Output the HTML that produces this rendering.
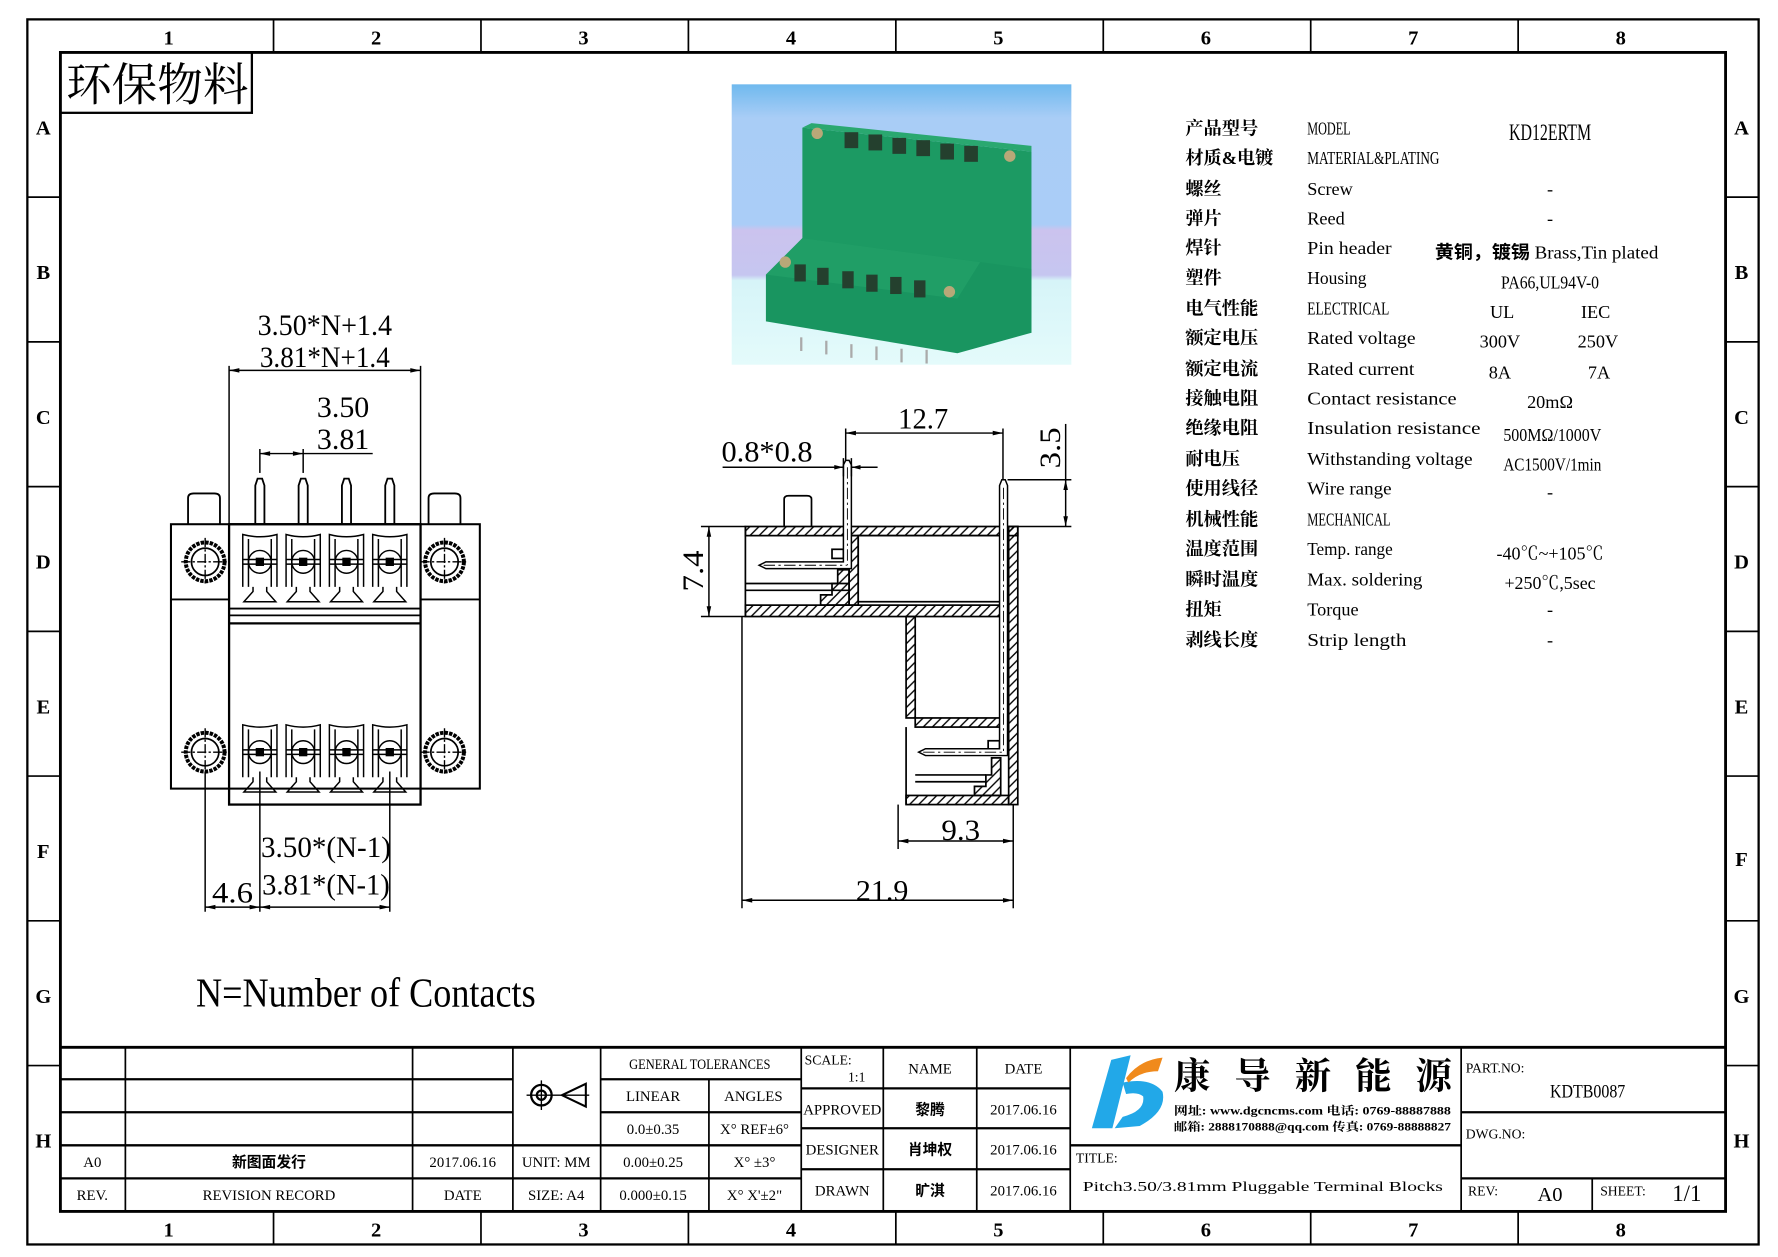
<!DOCTYPE html>
<html><head><meta charset="utf-8">
<style>
html,body{margin:0;padding:0;background:#fff;}
svg{display:block;}
text{font-family:"Liberation Serif","Noto Serif CJK SC","Noto Sans CJK SC",serif;fill:#000;}
.cn{font-family:"Liberation Sans","Noto Sans CJK SC",sans-serif;font-weight:bold;}
.sans{font-family:"Liberation Sans","Noto Sans CJK SC",sans-serif;font-weight:bold;}
</style></head>
<body>
<svg width="1778" height="1257" viewBox="0 0 1560 1103" preserveAspectRatio="none" xmlns="http://www.w3.org/2000/svg">
<defs>
<pattern id="h" patternUnits="userSpaceOnUse" width="8" height="8">
<path d="M-2,2 L2,-2 M0,8 L8,0 M6,10 L10,6" stroke="#000" stroke-width="1.2"/>
</pattern>
<linearGradient id="bg" x1="0" y1="0" x2="0" y2="1">
<stop offset="0" stop-color="#6fb9ee"/><stop offset="0.12" stop-color="#a9cdf6"/>
<stop offset="0.5" stop-color="#aacdf7"/><stop offset="0.52" stop-color="#cbc3ee"/>
<stop offset="0.68" stop-color="#c6c6f0"/><stop offset="0.7" stop-color="#d6f4f8"/>
<stop offset="1" stop-color="#e4fbfb"/>
</linearGradient>
</defs>
<rect width="1560" height="1103" fill="#fff"/>

<!-- frame -->
<g fill="none" stroke="#000">
<rect x="24" y="17" width="1519" height="1075" stroke-width="2"/>
<rect x="53" y="46" width="1461" height="1017" stroke-width="2.5"/>
</g>
<g stroke="#000" stroke-width="1.5">
<line x1="240" y1="17" x2="240" y2="46"/><line x1="422" y1="17" x2="422" y2="46"/><line x1="604" y1="17" x2="604" y2="46"/><line x1="786" y1="17" x2="786" y2="46"/><line x1="968" y1="17" x2="968" y2="46"/><line x1="1150" y1="17" x2="1150" y2="46"/><line x1="1332" y1="17" x2="1332" y2="46"/>
<line x1="240" y1="1063" x2="240" y2="1092"/><line x1="422" y1="1063" x2="422" y2="1092"/><line x1="604" y1="1063" x2="604" y2="1092"/><line x1="786" y1="1063" x2="786" y2="1092"/><line x1="968" y1="1063" x2="968" y2="1092"/><line x1="1150" y1="1063" x2="1150" y2="1092"/><line x1="1332" y1="1063" x2="1332" y2="1092"/>
<line x1="24" y1="173" x2="53" y2="173"/><line x1="24" y1="300" x2="53" y2="300"/><line x1="24" y1="427" x2="53" y2="427"/><line x1="24" y1="554" x2="53" y2="554"/><line x1="24" y1="681" x2="53" y2="681"/><line x1="24" y1="808" x2="53" y2="808"/><line x1="24" y1="935" x2="53" y2="935"/>
<line x1="1514" y1="173" x2="1543" y2="173"/><line x1="1514" y1="300" x2="1543" y2="300"/><line x1="1514" y1="427" x2="1543" y2="427"/><line x1="1514" y1="554" x2="1543" y2="554"/><line x1="1514" y1="681" x2="1543" y2="681"/><line x1="1514" y1="808" x2="1543" y2="808"/><line x1="1514" y1="935" x2="1543" y2="935"/>
</g>
<g class="sans" font-size="18" text-anchor="middle">
<text x="148" y="39">1</text><text x="330" y="39">2</text><text x="512" y="39">3</text><text x="694" y="39">4</text><text x="876" y="39">5</text><text x="1058" y="39">6</text><text x="1240" y="39">7</text><text x="1422" y="39">8</text>
<text x="148" y="1085">1</text><text x="330" y="1085">2</text><text x="512" y="1085">3</text><text x="694" y="1085">4</text><text x="876" y="1085">5</text><text x="1058" y="1085">6</text><text x="1240" y="1085">7</text><text x="1422" y="1085">8</text>
<text x="38" y="118">A</text><text x="38" y="245">B</text><text x="38" y="372">C</text><text x="38" y="499">D</text><text x="38" y="626">E</text><text x="38" y="753">F</text><text x="38" y="880">G</text><text x="38" y="1007">H</text>
<text x="1528" y="118">A</text><text x="1528" y="245">B</text><text x="1528" y="372">C</text><text x="1528" y="499">D</text><text x="1528" y="626">E</text><text x="1528" y="760">F</text><text x="1528" y="880">G</text><text x="1528" y="1007">H</text>
</g>

<!-- 环保物料 -->
<rect x="53" y="46" width="168" height="53" fill="none" stroke="#000" stroke-width="2"/>
<text x="58" y="88" font-size="40" textLength="160" lengthAdjust="spacingAndGlyphs">环保物料</text>

<!-- photo -->
<rect x="642" y="74" width="298" height="246" fill="url(#bg)"/>
<polygon points="704,112 905,133 905,292 704,234" fill="#1c9a63"/>
<polygon points="704,112 712,108 905,128 905,133" fill="#2aa870"/>
<polygon points="672,241 704,209 905,236 905,292 840,310 672,282" fill="#199560"/>
<polygon points="672,241 704,209 860,230 840,262" fill="#22a068" opacity="0.8"/>
<g fill="#24402e">
<rect x="741" y="116" width="12" height="14"/><rect x="762" y="118" width="12" height="14"/><rect x="783" y="121" width="12" height="14"/><rect x="804" y="123" width="12" height="14"/><rect x="825" y="126" width="12" height="14"/><rect x="846" y="128" width="12" height="14"/>
<rect x="697" y="232" width="10" height="15"/><rect x="717" y="235" width="10" height="15"/><rect x="739" y="238" width="10" height="15"/><rect x="760" y="241" width="10" height="15"/><rect x="781" y="243" width="10" height="15"/><rect x="802" y="246" width="10" height="15"/>
</g>
<g fill="#b8a878"><circle cx="717" cy="117" r="5"/><circle cx="886" cy="137" r="5"/><circle cx="689" cy="230" r="5"/><circle cx="833" cy="256" r="5"/></g>
<g stroke="#aaa" stroke-width="2"><line x1="703" y1="296" x2="703" y2="308"/><line x1="725" y1="299" x2="725" y2="311"/><line x1="747" y1="302" x2="747" y2="314"/><line x1="769" y1="304" x2="769" y2="316"/><line x1="791" y1="306" x2="791" y2="318"/><line x1="813" y1="307" x2="813" y2="319"/></g>

<!-- spec table -->
<g class="cn" font-size="16">
<text x="1040" y="118">产品型号</text><text x="1040" y="144">材质&amp;电镀</text><text x="1040" y="171">螺丝</text><text x="1040" y="197">弹片</text><text x="1040" y="223">焊针</text><text x="1040" y="249">塑件</text><text x="1040" y="276">电气性能</text><text x="1040" y="302">额定电压</text><text x="1040" y="329">额定电流</text><text x="1040" y="355">接触电阻</text><text x="1040" y="381">绝缘电阻</text><text x="1040" y="408">耐电压</text><text x="1040" y="434">使用线径</text><text x="1040" y="461">机械性能</text><text x="1040" y="487">温度范围</text><text x="1040" y="514">瞬时温度</text><text x="1040" y="540">扭矩</text><text x="1040" y="567">剥线长度</text>
</g>
<g font-size="16">
<text x="1147" y="118" textLength="38" lengthAdjust="spacingAndGlyphs">MODEL</text>
<text x="1147" y="144" textLength="116" lengthAdjust="spacingAndGlyphs">MATERIAL&amp;PLATING</text>
<text x="1147" y="171">Screw</text><text x="1147" y="197">Reed</text>
<text x="1147" y="223" textLength="74" lengthAdjust="spacingAndGlyphs">Pin header</text>
<text x="1147" y="249" textLength="52" lengthAdjust="spacingAndGlyphs">Housing</text>
<text x="1147" y="276" textLength="72" lengthAdjust="spacingAndGlyphs">ELECTRICAL</text>
<text x="1147" y="302" textLength="95" lengthAdjust="spacingAndGlyphs">Rated voltage</text>
<text x="1147" y="329" textLength="94" lengthAdjust="spacingAndGlyphs">Rated current</text>
<text x="1147" y="355" textLength="131" lengthAdjust="spacingAndGlyphs">Contact resistance</text>
<text x="1147" y="381" textLength="152" lengthAdjust="spacingAndGlyphs">Insulation resistance</text>
<text x="1147" y="408" textLength="145" lengthAdjust="spacingAndGlyphs">Withstanding voltage</text>
<text x="1147" y="434" textLength="74" lengthAdjust="spacingAndGlyphs">Wire range</text>
<text x="1147" y="461" textLength="73" lengthAdjust="spacingAndGlyphs">MECHANICAL</text>
<text x="1147" y="487" textLength="75" lengthAdjust="spacingAndGlyphs">Temp. range</text>
<text x="1147" y="514" textLength="101" lengthAdjust="spacingAndGlyphs">Max. soldering</text>
<text x="1147" y="540">Torque</text>
<text x="1147" y="567" textLength="87" lengthAdjust="spacingAndGlyphs">Strip length</text>
</g>
<g font-size="16" text-anchor="middle">
<text x="1360" y="123" font-size="20" textLength="72" lengthAdjust="spacingAndGlyphs">KD12ERTM</text>
<text x="1360" y="171">-</text><text x="1360" y="197">-</text>
<text x="1357" y="227" textLength="196" lengthAdjust="spacingAndGlyphs"><tspan class="cn">黄铜，镀锡</tspan> Brass,Tin plated</text>
<text x="1360" y="253" textLength="86" lengthAdjust="spacingAndGlyphs">PA66,UL94V-0</text>
<text x="1318" y="279">UL</text><text x="1400" y="279">IEC</text>
<text x="1316" y="305">300V</text><text x="1402" y="305">250V</text>
<text x="1316" y="332">8A</text><text x="1403" y="332">7A</text>
<text x="1360" y="358">20mΩ</text>
<text x="1362" y="387" textLength="86" lengthAdjust="spacingAndGlyphs">500MΩ/1000V</text>
<text x="1362" y="413" textLength="86" lengthAdjust="spacingAndGlyphs">AC1500V/1min</text>
<text x="1360" y="437">-</text>
<text x="1360" y="491" textLength="94" lengthAdjust="spacingAndGlyphs">-40℃~+105℃</text>
<text x="1360" y="517" textLength="80" lengthAdjust="spacingAndGlyphs">+250℃,5sec</text>
<text x="1360" y="540">-</text><text x="1360" y="567">-</text>
</g>

<!-- FRONT VIEW -->
<g fill="none" stroke="#000" stroke-width="1.6">
<!-- bosses -->
<path d="M165,460 V437 Q165,433 170,433 H188 Q193,433 193,437 V460"/>
<path d="M376,460 V437 Q376,433 381,433 H399 Q404,433 404,437 V460"/>
<!-- pins -->
<path d="M224,460 V426 L226,420 H230 L232,426 V460"/>
<path d="M262,460 V426 L264,420 H268 L270,426 V460"/>
<path d="M300,460 V426 L302,420 H306 L308,426 V460"/>
<path d="M338,460 V426 L340,420 H344 L346,426 V460"/>
<!-- body -->
<rect x="150" y="460" width="271" height="232" stroke-width="1.8"/>
<rect x="201" y="460" width="168" height="246" stroke-width="2"/>
<line x1="150" y1="526" x2="201" y2="526"/><line x1="369" y1="526" x2="421" y2="526"/>
<line x1="201" y1="534" x2="369" y2="534"/><line x1="201" y1="540" x2="369" y2="540"/><line x1="201" y1="547" x2="369" y2="547" stroke-width="2"/>
</g>
<!-- cells -->
<g fill="none" stroke="#000" stroke-width="1.3" id="cells">
<g id="c1">
<path d="M213,515 V469 Q228,473 243,469 V515"/><path d="M218,515 V473 M238,515 V473"/>
<circle cx="228" cy="493" r="10"/><line x1="213" y1="491" x2="243" y2="491"/><line x1="213" y1="495" x2="243" y2="495"/>
<rect x="225" y="490" width="6" height="6" fill="#000"/>
<polyline points="222,515 222,519 214,528 242,528 234,519 234,515"/>
</g>
<use href="#c1" x="38"/><use href="#c1" x="76"/><use href="#c1" x="114"/>
<use href="#c1" y="167"/><use href="#c1" x="38" y="167"/><use href="#c1" x="76" y="167"/><use href="#c1" x="114" y="167"/>
</g>
<!-- screws -->
<g fill="none" stroke="#000">
<g id="sc"><circle cx="180" cy="493" r="17" stroke-width="3.5" stroke-dasharray="3 1"/><circle cx="180" cy="493" r="12" stroke-width="1.5"/><path d="M159,493 H201 M180,472 V514" stroke-width="1.2" stroke-dasharray="8 2 2 2"/></g>
<use href="#sc" x="210"/><use href="#sc" y="167"/><use href="#sc" x="210" y="167"/>
</g>
<!-- front dims -->
<g stroke="#000" stroke-width="1.3" fill="none">
<line x1="201" y1="321" x2="201" y2="460"/><line x1="369" y1="321" x2="369" y2="460"/>
<line x1="201" y1="325" x2="369" y2="325"/>
<line x1="228" y1="394" x2="228" y2="415"/><line x1="266" y1="394" x2="266" y2="415"/>
<line x1="228" y1="398" x2="327" y2="398"/>
<line x1="180" y1="677" x2="180" y2="800"/><line x1="228" y1="677" x2="228" y2="800"/><line x1="342" y1="677" x2="342" y2="800"/>
<line x1="180" y1="796" x2="228" y2="796"/><line x1="228" y1="796" x2="342" y2="796"/>
</g>
<g fill="#000">
<path d="M201,325 l9,-2 v4z M369,325 l-9,-2 v4z M228,398 l9,-2 v4z M266,398 l-9,-2 v4z M180,796 l9,-2 v4z M228,796 l-9,-2 v4z M228,796 l9,-2 v4z M342,796 l-9,-2 v4z"/>
</g>
<g font-size="26" text-anchor="middle">
<text x="285" y="294" textLength="118" lengthAdjust="spacingAndGlyphs">3.50*N+1.4</text>
<text x="285" y="322" textLength="114" lengthAdjust="spacingAndGlyphs">3.81*N+1.4</text>
<text x="301" y="366" textLength="46" lengthAdjust="spacingAndGlyphs">3.50</text>
<text x="301" y="394" textLength="46" lengthAdjust="spacingAndGlyphs">3.81</text>
<text x="286" y="752" textLength="114" lengthAdjust="spacingAndGlyphs">3.50*(N-1)</text>
<text x="286" y="785" textLength="112" lengthAdjust="spacingAndGlyphs">3.81*(N-1)</text>
<text x="204" y="792" textLength="36" lengthAdjust="spacingAndGlyphs">4.6</text>
</g>
<text x="172" y="883" font-size="36" textLength="298" lengthAdjust="spacingAndGlyphs">N=Number of Contacts</text>

<!-- SIDE VIEW -->
<g stroke="#000" stroke-width="1.5">
<path d="M688,462 V438 Q688,435 692,435 H708 Q712,435 712,438 V462" fill="none"/>
<rect x="654" y="462" width="239" height="8" fill="url(#h)"/>
<rect x="654" y="531" width="231" height="10" fill="url(#h)"/>
<rect x="745" y="470" width="8" height="61" fill="url(#h)"/>
<polygon points="735,500 745,500 745,531 720,531 720,522 730,522 730,512 735,512" fill="url(#h)"/>
<rect x="795" y="541" width="8" height="89" fill="url(#h)"/>
<rect x="803" y="630" width="77" height="8" fill="url(#h)"/>
<rect x="885" y="462" width="8" height="244" fill="url(#h)"/>
<rect x="795" y="698" width="90" height="8" fill="url(#h)"/>
<polygon points="870,665 878,665 878,698 855,698 855,690 865,690 865,680 870,680" fill="url(#h)"/>
<rect x="753" y="470" width="125" height="58" fill="#fff"/>
<line x1="654" y1="462" x2="654" y2="541"/>
<line x1="654" y1="512" x2="745" y2="512"/><line x1="654" y1="518" x2="745" y2="518"/>
<line x1="795" y1="638" x2="795" y2="706"/>
<line x1="803" y1="680" x2="865" y2="680"/><line x1="803" y1="686" x2="865" y2="686"/>
<rect x="730" y="482" width="10" height="8" fill="#fff"/>
<rect x="867" y="650" width="10" height="8" fill="#fff"/>
</g>
<!-- pins side -->
<g fill="#fff" stroke="#000" stroke-width="1.3">
<path d="M740,408 L742,404 H745 L747,408 V499 H672 L666,496 L672,493 H740 Z"/>
<path d="M877,426 L879,421 H882 L884,426 V663 H812 L806,660 L812,657 H877 Z"/>
</g>
<g stroke="#000" stroke-width="0.8" stroke-dasharray="10 3 2 3" fill="none">
<line x1="743.5" y1="410" x2="743.5" y2="496"/><line x1="670" y1="496" x2="743" y2="496"/>
<line x1="880.5" y1="428" x2="880.5" y2="660"/><line x1="810" y1="660" x2="880" y2="660"/>
</g>
<!-- side dims -->
<g stroke="#000" stroke-width="1.3" fill="none">
<line x1="742" y1="376" x2="742" y2="404"/><line x1="880" y1="376" x2="880" y2="421"/>
<line x1="742" y1="380" x2="880" y2="380"/>
<line x1="634" y1="410" x2="740" y2="410"/><line x1="747" y1="410" x2="770" y2="410"/>
<line x1="740" y1="402" x2="740" y2="418"/><line x1="747" y1="402" x2="747" y2="418"/>
<line x1="884" y1="421" x2="940" y2="421"/><line x1="893" y1="462" x2="940" y2="462"/>
<line x1="935" y1="372" x2="935" y2="462"/>
<line x1="615" y1="462" x2="654" y2="462"/><line x1="615" y1="541" x2="654" y2="541"/>
<line x1="622" y1="462" x2="622" y2="541"/>
<line x1="788" y1="706" x2="788" y2="745"/><line x1="889" y1="706" x2="889" y2="797"/>
<line x1="788" y1="738" x2="889" y2="738"/>
<line x1="651" y1="541" x2="651" y2="797"/>
<line x1="651" y1="790" x2="889" y2="790"/>
</g>
<g fill="#000">
<path d="M742,380 l9,-2 v4z M880,380 l-9,-2 v4z M935,421 l-2,9 h4z M935,462 l-2,-9 h4z M622,462 l-2,9 h4z M622,541 l-2,-9 h4z M788,738 l9,-2 v4z M889,738 l-9,-2 v4z M651,790 l9,-2 v4z M889,790 l-9,-2 v4z M740,410 l-8,-2 v4z M747,410 l8,-2 v4z"/>
</g>
<g font-size="26" text-anchor="middle">
<text x="810" y="376" textLength="44" lengthAdjust="spacingAndGlyphs">12.7</text>
<text x="673" y="405" textLength="80" lengthAdjust="spacingAndGlyphs">0.8*0.8</text>
<text x="843" y="737" textLength="34" lengthAdjust="spacingAndGlyphs">9.3</text>
<text x="774" y="790" textLength="46" lengthAdjust="spacingAndGlyphs">21.9</text>
<text transform="translate(930,393) rotate(-90)" textLength="36" lengthAdjust="spacingAndGlyphs">3.5</text>
<text transform="translate(617,501) rotate(-90)" textLength="36" lengthAdjust="spacingAndGlyphs">7.4</text>
</g>

<!-- TITLE BLOCK -->
<g stroke="#000" fill="none">
<line x1="53" y1="919" x2="1514" y2="919" stroke-width="2.5"/>
<g stroke-width="2">
<line x1="53" y1="947" x2="450" y2="947"/><line x1="53" y1="976" x2="450" y2="976"/><line x1="53" y1="1005" x2="450" y2="1005"/><line x1="53" y1="1034" x2="450" y2="1034"/>
<line x1="450" y1="1005" x2="527" y2="1005"/><line x1="450" y1="1034" x2="527" y2="1034"/>
<line x1="527" y1="947" x2="703" y2="947"/><line x1="527" y1="976" x2="703" y2="976"/><line x1="527" y1="1005" x2="703" y2="1005"/><line x1="527" y1="1034" x2="703" y2="1034"/>
<line x1="703" y1="955" x2="939" y2="955"/><line x1="703" y1="990" x2="939" y2="990"/><line x1="703" y1="1026" x2="939" y2="1026"/>
<line x1="939" y1="1005" x2="1282" y2="1005"/>
<line x1="1282" y1="976" x2="1514" y2="976"/><line x1="1282" y1="1034" x2="1514" y2="1034"/>
</g>
<g stroke-width="1.5">
<line x1="110" y1="919" x2="110" y2="1063"/><line x1="362" y1="919" x2="362" y2="1063"/><line x1="450" y1="919" x2="450" y2="1063"/><line x1="527" y1="919" x2="527" y2="1063"/>
<line x1="622" y1="947" x2="622" y2="1063"/><line x1="703" y1="919" x2="703" y2="1063"/><line x1="775" y1="919" x2="775" y2="1063"/><line x1="857" y1="919" x2="857" y2="1063"/><line x1="939" y1="919" x2="939" y2="1063"/><line x1="1282" y1="919" x2="1282" y2="1063"/><line x1="1397" y1="1034" x2="1397" y2="1063"/>
</g>
<!-- projection symbol -->
<circle cx="475" cy="961" r="9" stroke-width="2"/><circle cx="475" cy="961" r="4" stroke-width="2"/>
<path d="M462,961 H517 M475,948 V974" stroke-width="1.2"/>
<path d="M493,961 L514,951 V971 Z" stroke-width="1.8"/>
</g>
<g font-size="13" text-anchor="middle">
<text x="81" y="1024">A0</text><text x="236" y="1024" class="cn" font-weight="normal">新图面发行</text><text x="406" y="1024">2017.06.16</text>
<text x="81" y="1053">REV.</text><text x="236" y="1053">REVISION RECORD</text><text x="406" y="1053">DATE</text>
<text x="488" y="1024">UNIT: MM</text><text x="488" y="1053">SIZE: A4</text>
<text x="614" y="938" textLength="124" lengthAdjust="spacingAndGlyphs">GENERAL TOLERANCES</text>
<text x="573" y="966">LINEAR</text><text x="661" y="966">ANGLES</text>
<text x="573" y="995">0.0±0.35</text><text x="662" y="995">X° REF±6°</text>
<text x="573" y="1024">0.00±0.25</text><text x="662" y="1024">X° ±3°</text>
<text x="573" y="1053">0.000±0.15</text><text x="662" y="1053">X° X'±2"</text>
<text x="816" y="942">NAME</text><text x="898" y="942">DATE</text>
<text x="739" y="978">APPROVED</text><text x="816" y="978" class="cn" font-weight="normal">黎腾</text><text x="898" y="978">2017.06.16</text>
<text x="739" y="1013">DESIGNER</text><text x="816" y="1013" class="cn" font-weight="normal">肖坤权</text><text x="898" y="1013">2017.06.16</text>
<text x="739" y="1049">DRAWN</text><text x="816" y="1049" class="cn" font-weight="normal">旷淇</text><text x="898" y="1049">2017.06.16</text>
<text x="1393" y="963" font-size="17" textLength="66" lengthAdjust="spacingAndGlyphs">KDTB0087</text>
<text x="1360" y="1054" font-size="18">A0</text>
<text x="1480" y="1054" font-size="20">1/1</text>
</g>
<g font-size="12">
<text x="706" y="934">SCALE:</text><text x="744" y="949">1:1</text>
<text x="944" y="1020">TITLE:</text>
<text x="950" y="1045" textLength="316" lengthAdjust="spacingAndGlyphs">Pitch3.50/3.81mm Pluggable Terminal Blocks</text>
<text x="1286" y="941">PART.NO:</text>
<text x="1286" y="999">DWG.NO:</text>
<text x="1288" y="1049">REV:</text>
<text x="1404" y="1049">SHEET:</text>
</g>
<!-- logo -->
<path d="M975,930 L992,926 L976,990 L958,990 Z" fill="#22a8e8"/>
<path d="M985,950 Q1010,945 1020,958 Q1024,975 1000,988 L978,990 L985,980 Q1005,975 1003,962 Q998,958 988,960 Z" fill="#22a8e8"/>
<path d="M988,946 Q1000,930 1020,928 L1016,940 Q1000,940 990,950 Z" fill="#f08a1c"/>
<g class="cn" font-size="32">
<text x="1030" y="955">康</text><text x="1083" y="955">导</text><text x="1136" y="955">新</text><text x="1189" y="955">能</text><text x="1242" y="955">源</text>
</g>
<g class="cn" font-size="10">
<text x="1030" y="978" textLength="243" lengthAdjust="spacingAndGlyphs">网址: www.dgcncms.com    电话: 0769-88887888</text>
<text x="1030" y="992" textLength="243" lengthAdjust="spacingAndGlyphs">邮箱: 2888170888@qq.com 传真: 0769-88888827</text>
</g>
</svg>
</body></html>
